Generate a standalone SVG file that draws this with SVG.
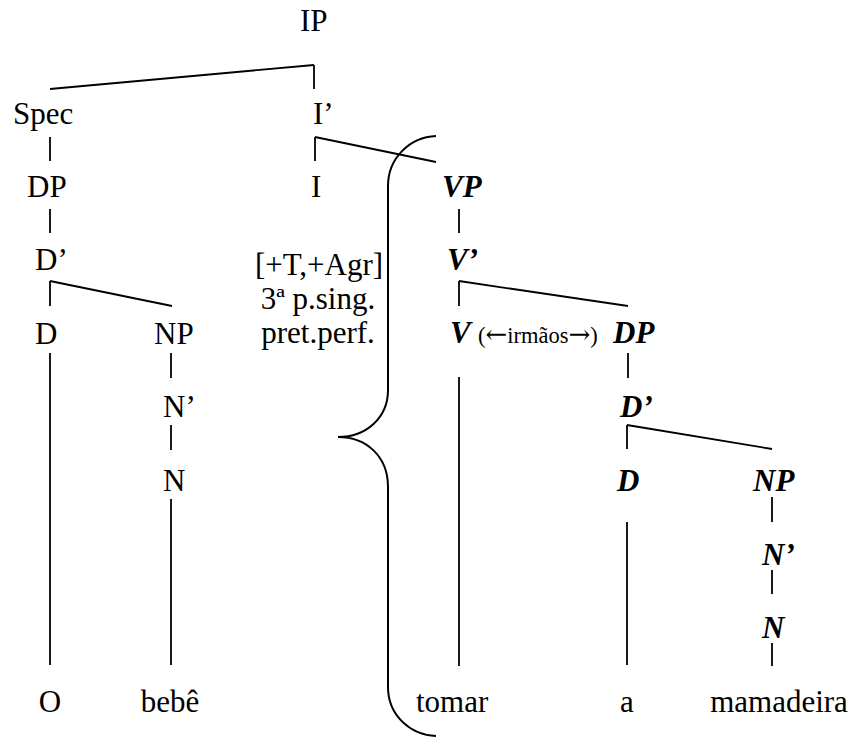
<svg xmlns="http://www.w3.org/2000/svg" width="858" height="737" viewBox="0 0 858 737">
<style>
.t{font-size:31px;fill:#000}
.b{font-weight:bold;font-style:italic}
.s{font-size:22.5px}
.ar{font-family:"DejaVu Serif",serif;font-size:26px}
.m{text-anchor:middle}
#edges line{stroke:#000;stroke-width:1.8;fill:none}
#brace path{stroke:#000;stroke-width:2;fill:none}
</style>
<rect width="858" height="737" fill="#fff"/>
<g id="edges">
<line x1="50" y1="89" x2="314" y2="65"/><line x1="314" y1="65" x2="314" y2="89"/>
<line x1="50" y1="137" x2="50" y2="161"/>
<line x1="315" y1="137" x2="315" y2="161"/><line x1="315" y1="137" x2="436" y2="162"/>
<line x1="50" y1="209" x2="50" y2="233"/>
<line x1="459" y1="209" x2="459" y2="233"/>
<line x1="50" y1="281" x2="50" y2="306"/><line x1="50" y1="281" x2="172" y2="306"/>
<line x1="459" y1="281" x2="459" y2="306"/><line x1="459" y1="281" x2="628" y2="306"/>
<line x1="50" y1="353" x2="50" y2="665"/>
<line x1="171" y1="353" x2="171" y2="378"/>
<line x1="459" y1="377" x2="459" y2="666"/>
<line x1="628" y1="353" x2="628" y2="378"/>
<line x1="171" y1="425" x2="171" y2="450"/>
<line x1="627" y1="425" x2="627" y2="449"/><line x1="627" y1="425" x2="772" y2="449"/>
<line x1="171" y1="499" x2="171" y2="665"/>
<line x1="627" y1="522" x2="627" y2="665"/>
<line x1="772" y1="497" x2="772" y2="522"/>
<line x1="772" y1="570" x2="772" y2="594"/>
<line x1="772" y1="643" x2="772" y2="666"/>
</g>
<g id="brace"><path d="M436,136 C410,137 388,158 388,186 L388,390 C388,418 366,437 338,437 C366,437 388,456 388,487 L388,687 C388,715 410,735 436,736"/></g>
<g id="labels" class="t" font-family="Liberation Serif, Times New Roman, serif">
<g id="IP"><text x="300" y="31">IP</text></g>
<g id="Spec"><text x="13" y="124">Spec</text></g>
<g id="Ibar"><text x="313" y="124">I’</text></g>
<g id="DP1"><text x="27" y="197">DP</text></g>
<g id="I"><text x="311" y="197">I</text></g>
<g id="VP"><text class="b" x="442" y="197">VP</text></g>
<g id="Dbar1"><text x="35" y="270">D’</text></g>
<g id="features"><text class="m" x="319" y="275">[+T,+Agr]</text><text class="m" x="318" y="309">3ª p.sing.</text><text class="m" x="318" y="343">pret.perf.</text></g>
<g id="Vbar"><text class="b" x="447" y="270">V’</text></g>
<g id="D1"><text x="35" y="344">D</text></g>
<g id="NP1"><text x="154" y="344">NP</text></g>
<g id="V"><text class="b" x="450" y="343">V</text><text class="s" x="478" y="343">(<tspan class="ar">←</tspan>irmãos<tspan class="ar">→</tspan>)</text></g>
<g id="DP2"><text class="b" x="613" y="343">DP</text></g>
<g id="Nbar1"><text x="163" y="417">N’</text></g>
<g id="Dbar2"><text class="b" x="620" y="417">D’</text></g>
<g id="N1"><text x="163" y="491">N</text></g>
<g id="D2"><text class="b" x="617" y="491">D</text></g>
<g id="NP2"><text class="b" x="753" y="491">NP</text></g>
<g id="Nbar2"><text class="b" x="762" y="565">N’</text></g>
<g id="N2"><text class="b" x="762" y="638">N</text></g>
<g id="O"><text class="m" x="50" y="712">O</text></g>
<g id="bebe"><text class="m" x="170" y="712">bebê</text></g>
<g id="tomar"><text x="416" y="712">tomar</text></g>
<g id="a"><text class="m" x="627" y="712">a</text></g>
<g id="mamadeira"><text class="m" x="779" y="712">mamadeira</text></g>
</g>
</svg>
